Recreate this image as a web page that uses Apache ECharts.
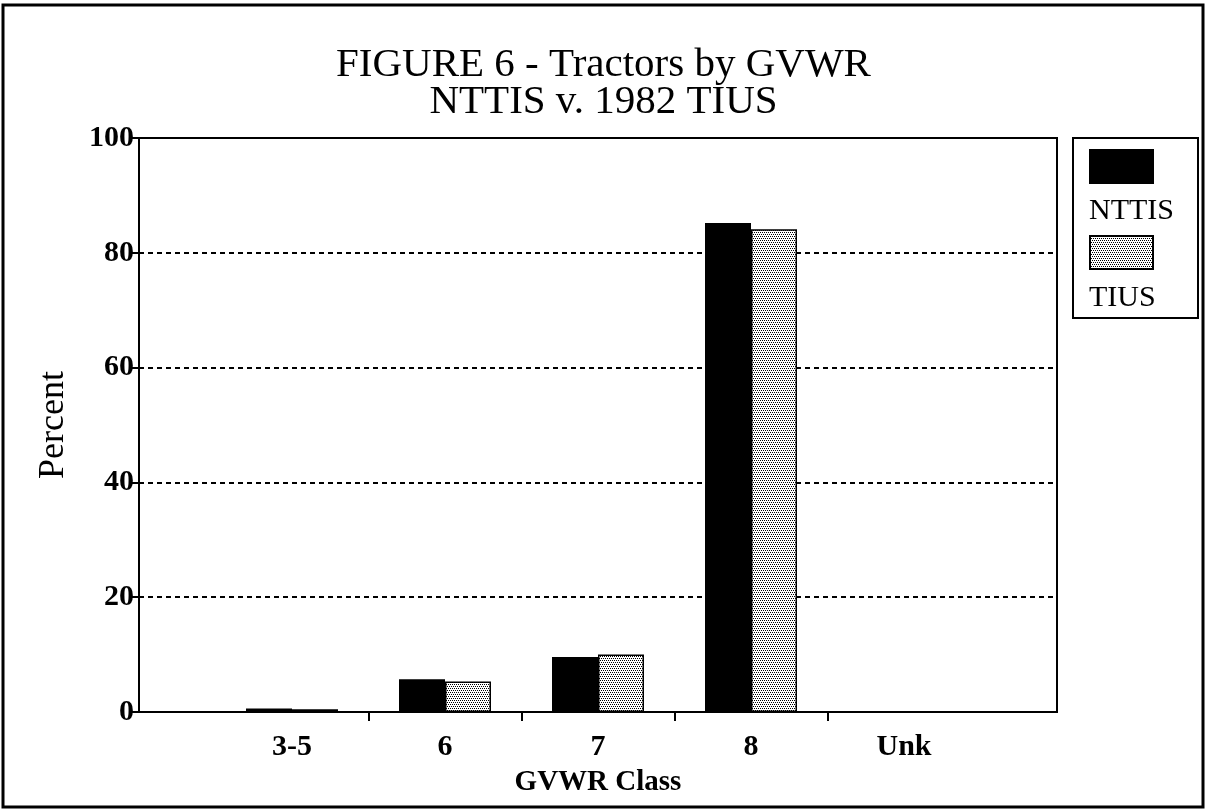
<!DOCTYPE html>
<html>
<head>
<meta charset="utf-8">
<script src="https://cdn.jsdelivr.net/npm/echarts@6/dist/echarts.min.js"></script>
<style>
  html, body { margin: 0; padding: 0; background: #fff; }
  #main { width: 1207px; height: 812px; }
</style>
</head>
<body>
<div id="main"></div>
<script>
// GVWR classes, padded with an empty slot on each side like the original axis
var classes = ['', '3-5', '6', '7', '8', 'Unk', ''];
var nttis = [null, 0.6, 5.7, 9.6, 85.2, 0, null];
var tius = [null, 0.5, 5.3, 10.0, 84.1, 0, null];
var yTicks = [0, 20, 40, 60, 80, 100];
var classTicks = [1.5, 2.5, 3.5, 4.5]; // tick marks between classes

var FONT = '"Liberation Serif", "DejaVu Serif", serif';

// stipple fill for TIUS
function makeDots() {
  var c = document.createElement('canvas');
  c.width = 4;
  c.height = 4;
  var ctx = c.getContext('2d');
  ctx.fillStyle = '#fff';
  ctx.fillRect(0, 0, 4, 4);
  ctx.fillStyle = '#000';
  ctx.fillRect(0, 0, 1, 1);
  ctx.fillRect(2, 0, 1, 1);
  ctx.fillRect(1, 2, 1, 1);
  ctx.fillRect(3, 2, 1, 1);
  return c;
}
var dots = { image: makeDots(), repeat: 'repeat' };

var chart = echarts.init(document.getElementById('main'));

var option = {
  animation: false,
  backgroundColor: '#fff',
  title: {
    text: 'FIGURE 6 - Tractors by GVWR\nNTTIS v. 1982 TIUS',
    left: 'center',
    top: 42,
    textStyle: {
      fontFamily: FONT,
      fontSize: 41,
      fontWeight: 'normal',
      lineHeight: 37,
      color: '#000'
    }
  },
  legend: [{
    // swatches only
    data: ['NTTIS', 'TIUS'],
    orient: 'vertical',
    left: 1084,
    top: 144,
    icon: 'rect',
    itemWidth: 63,
    itemHeight: 33,
    itemGap: 51,
    formatter: function() { return ''; },
    selectedMode: false
  }, {
    // names below the swatches
    data: ['NTTIS', 'TIUS'],
    orient: 'vertical',
    left: 1079,
    top: 191,
    icon: 'rect',
    itemWidth: 0,
    itemHeight: 22,
    itemGap: 57,
    selectedMode: false,
    itemStyle: { opacity: 0, borderWidth: 0 },
    textStyle: { fontFamily: FONT, fontSize: 30, color: '#000' }
  }],
  grid: {
    left: 139,
    right: 150,
    top: 138,
    bottom: 100,
    show: true,
    borderColor: '#000',
    borderWidth: 2
  },
  xAxis: [{
    type: 'category',
    data: classes,
    boundaryGap: false,
    axisLine: { lineStyle: { color: '#000', width: 2 } },
    axisTick: { show: false },
    axisLabel: { color: '#000', fontFamily: FONT, fontSize: 30, fontWeight: 'bold', margin: 20 },
    name: 'GVWR Class',
    nameLocation: 'middle',
    nameGap: 56,
    nameTextStyle: { color: '#000', fontFamily: FONT, fontSize: 29, fontWeight: 'bold' },
    splitLine: { show: false }
  }, {
    type: 'value',
    position: 'bottom',
    min: 0,
    max: classes.length - 1,
    axisLine: { show: false },
    axisLabel: { show: false },
    splitLine: { show: false },
    axisTick: {
      show: true,
      customValues: classTicks,
      length: 9,
      lineStyle: { color: '#000', width: 2 }
    }
  }],
  yAxis: {
    type: 'value',
    min: yTicks[0],
    max: yTicks[yTicks.length - 1],
    interval: yTicks[1] - yTicks[0],
    axisLine: { show: true, lineStyle: { color: '#000', width: 2 } },
    axisTick: { show: true, length: 7, lineStyle: { color: '#000', width: 2 } },
    axisLabel: { color: '#000', fontFamily: FONT, fontSize: 30, fontWeight: 'bold', margin: 5 },
    name: 'Percent',
    nameLocation: 'middle',
    nameRotate: 90,
    nameGap: 67,
    nameTextStyle: { color: '#000', fontFamily: FONT, fontSize: 36 },
    splitLine: { show: true, lineStyle: { color: '#000', width: 2, type: [5, 4] } }
  },
  series: [{
    name: 'NTTIS',
    type: 'bar',
    data: nttis,
    barWidth: 46,
    barGap: '0%',
    itemStyle: { color: '#000', borderColor: '#000', borderWidth: 1.5 }
  }, {
    name: 'TIUS',
    type: 'bar',
    data: tius,
    barWidth: 46,
    barGap: '0%',
    itemStyle: { color: dots, borderColor: '#000', borderWidth: 1.5 }
  }],
  graphic: [{
    type: 'rect',
    shape: { x: 3, y: 5, width: 1200, height: 802 },
    style: { fill: null, stroke: '#000', lineWidth: 3 },
    silent: true
  }, {
    type: 'rect',
    shape: { x: 1073, y: 138, width: 125, height: 180 },
    style: { fill: null, stroke: '#000', lineWidth: 2 },
    silent: true
  }]
};

chart.setOption(option);
</script>
</body>
</html>
